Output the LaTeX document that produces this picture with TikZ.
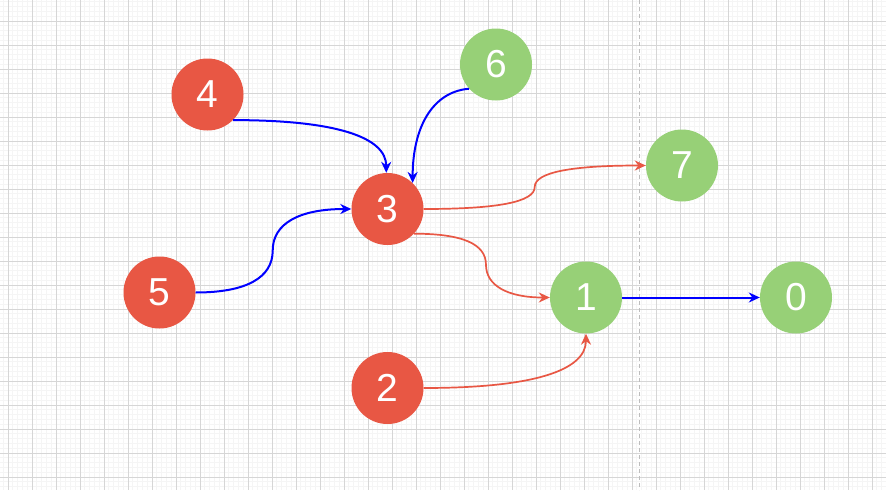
\documentclass[tikz,border=0pt]{standalone}
\usepackage{fontspec}
\setmainfont{Liberation Sans}
\usetikzlibrary{arrows.meta}
\definecolor{nred}{HTML}{E85744}
\definecolor{ngreen}{HTML}{97D077}
\definecolor{gmaj}{HTML}{D6D6D6}
\definecolor{gmin}{HTML}{F5F5F5}
\definecolor{dline}{HTML}{BDBDBD}
\definecolor{ered}{HTML}{E85744}
\begin{document}
\begin{tikzpicture}[x=1pt,y=-1pt,
  vert/.style={circle,minimum size=72pt,inner sep=0pt,text=white,font=\fontsize{39}{39}\selectfont},
  rv/.style={vert,fill=nred},
  gv/.style={vert,fill=ngreen},
  tip/.style={-{Stealth[length=11pt,width=10pt,inset=3.5pt]}},
  be/.style={draw=blue,line width=2pt,tip},
  re/.style={draw=ered,line width=1.7pt,tip},
  minorline/.style={draw=gmin,line width=1pt},
  majorline/.style={draw=gmaj,line width=1pt}]
\useasboundingbox (0,0) rectangle (886,490);
\fill[white] (0,0) rectangle (886,490);
\begin{scope}
\clip (0,0) rectangle (886,490);
\foreach \i in {-2,...,185} \draw[minorline] ({8+4.8*\i},0) -- ({8+4.8*\i},490);
\foreach \i in {-5,...,100} \draw[minorline] (0,{21+4.8*\i}) -- (886,{21+4.8*\i});
\foreach \i in {-1,...,37} \draw[majorline] ({8+24*\i},0) -- ({8+24*\i},490);
\foreach \i in {-1,...,20} \draw[majorline] (0,{21+24*\i}) -- (886,{21+24*\i});
\draw[dline,line width=1pt,dash pattern=on 4pt off 3pt] (639.5,0) -- (639.5,490);
\end{scope}
\node[rv] (n4) at (207.5,94.5) {4};
\node[gv] (n6) at (496,64.5) {6};
\node[rv] (n3) at (387.5,209) {3};
\node[gv] (n7) at (682,165.5) {7};
\node[rv] (n5) at (159.5,292.5) {5};
\node[gv] (n1) at (586,297.5) {1};
\node[gv] (n0) at (796,297.5) {0};
\node[rv] (n2) at (387.5,388) {2};
\draw[be] (n4.-45) .. controls +(102,0) and +(0,-36) .. (n3.92);
\draw[be] (n6.222) .. controls +(-37,3) and +(0,-55) .. (n3.46);
\draw[be] (n5.east) .. controls +(51,0) and +(0,27) .. ++(77,-42) .. controls +(0,-27) and +(-52,0) .. (n3.west);
\draw[re] (n3.east) .. controls +(74,0) and +(0,15) .. ++(111,-22) .. controls +(0,-15) and +(-73,0) .. (n7.west);
\draw[re] (n3.-43) .. controls +(48,0) and +(0,-21) .. ++(72,31) .. controls +(0,21) and +(-42,0) .. (n1.west);
\draw[re] (n2.east) .. controls +(109,0) and +(0,37) .. (n1.south);
\draw[be] (n1.east) -- (n0.west);
\end{tikzpicture}
\end{document}
